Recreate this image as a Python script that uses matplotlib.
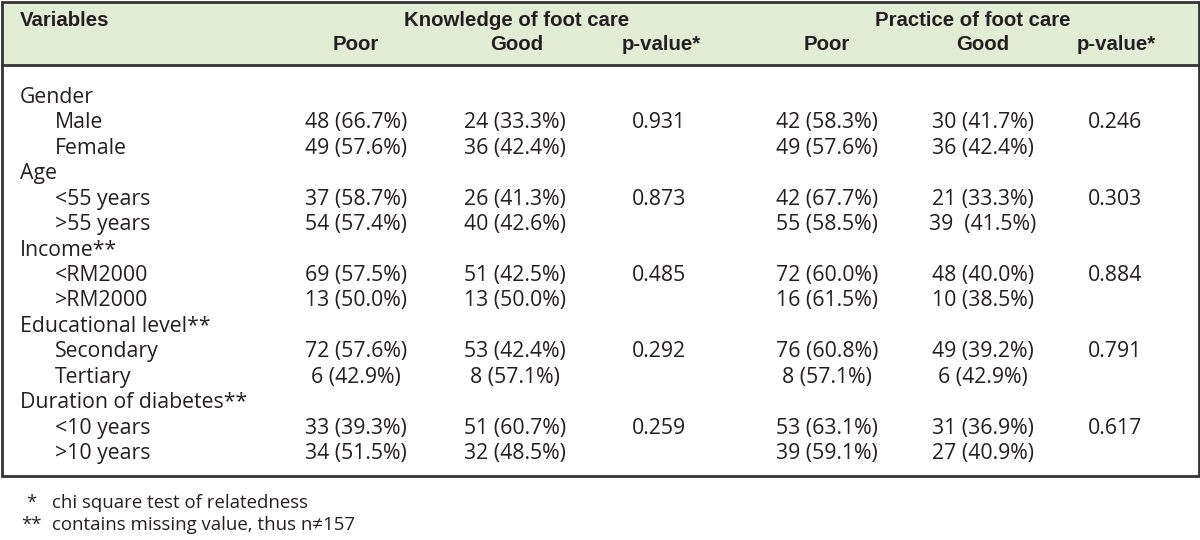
import matplotlib
matplotlib.use("Agg")
import matplotlib.pyplot as plt
from matplotlib.patches import Rectangle

# ---- data ----
groups = ["Gender", "Age", "Income**", "Educational level**", "Duration of diabetes**"]
levels = [["Male", "Female"], ["<55 years", ">55 years"], ["<RM2000", ">RM2000"],
          ["Secondary", "Tertiary"], ["<10 years", ">10 years"]]
know_poor_n = [48, 49, 37, 54, 69, 13, 72, 6, 33, 34]
know_poor_pct = [66.7, 57.6, 58.7, 57.4, 57.5, 50.0, 57.6, 42.9, 39.3, 51.5]
know_good_n = [24, 36, 26, 40, 51, 13, 53, 8, 51, 32]
know_good_pct = [33.3, 42.4, 41.3, 42.6, 42.5, 50.0, 42.4, 57.1, 60.7, 48.5]
know_p = ["0.931", "0.873", "0.485", "0.292", "0.259"]
prac_poor_n = [42, 49, 42, 55, 72, 16, 76, 8, 53, 39]
prac_poor_pct = [58.3, 57.6, 67.7, 58.5, 60.0, 61.5, 60.8, 57.1, 63.1, 59.1]
prac_good_n = [30, 36, 21, 39, 48, 10, 49, 6, 31, 27]
prac_good_pct = [41.7, 42.4, 33.3, 41.5, 40.0, 38.5, 39.2, 42.9, 36.9, 40.9]
prac_p = ["0.246", "0.303", "0.884", "0.791", "0.617"]
sub_headers = ["Poor", "Good", "p-value*", "Poor", "Good", "p-value*"]
footnotes = [("*", "chi square test of relatedness"),
             ("**", "contains missing value, thus n\u2260157")]

# ---- layout ----
W, H = 1200, 540
fig = plt.figure(figsize=(12, 5.4), dpi=100)
ax = fig.add_axes([0, 0, 1, 1])
ax.set_xlim(0, W)
ax.set_ylim(H, 0)
ax.axis("off")

txt = "#231f20"
edge = "#333333"
hdr_font = "Liberation Sans"
body_font = "Open Sans"
hsize = 14.7
bsize = 15.3
fsize = 13.4

top, hdr_bot, bot = 1.5, 65, 476
ax.add_patch(Rectangle((1.5, top), W - 3, hdr_bot - top, facecolor="#e3ecd4",
                       edgecolor="none", zorder=0))
ax.add_patch(Rectangle((1.5, top), W - 3, bot - top, facecolor="none",
                       edgecolor=edge, lw=2.0, zorder=3))
ax.plot([1.5, W - 1.5], [hdr_bot, hdr_bot], color=edge, lw=2.0, zorder=3)

# header
ax.text(20, 18, "Variables", fontfamily=hdr_font, fontweight="bold", fontsize=hsize,
        color=txt, ha="left", va="center_baseline")
ax.text(517, 18, "Knowledge of foot care", fontfamily=hdr_font, fontweight="bold",
        fontsize=hsize, color=txt, ha="center", va="center_baseline")
ax.text(973, 18, "Practice of foot care", fontfamily=hdr_font, fontweight="bold",
        fontsize=hsize, color=txt, ha="center", va="center_baseline")
hdr_x = [356, 517, 661, 827, 983, 1116]
for x, s in zip(hdr_x, sub_headers):
    ax.text(x, 43, s, fontfamily=hdr_font, fontweight="bold", fontsize=hsize,
            color=txt, ha="center", va="center_baseline")

# body
col_x = [356, 515, 659, 827, 983, 1115]
y0, step = 95, 25.43
row = 0
k = 0
for g, (grp, levs) in enumerate(zip(groups, levels)):
    y = y0 + row * step
    ax.text(20, y, grp, fontfamily=body_font, fontsize=bsize, color=txt,
            ha="left", va="center_baseline")
    row += 1
    for j, lev in enumerate(levs):
        y = y0 + row * step
        ax.text(55, y, lev, fontfamily=body_font, fontsize=bsize, color=txt,
                ha="left", va="center_baseline")
        gsep = "  " if (prac_good_n[k], prac_good_pct[k]) == (39, 41.5) else " "
        cells = [f"{know_poor_n[k]} ({know_poor_pct[k]:.1f}%)",
                 f"{know_good_n[k]} ({know_good_pct[k]:.1f}%)",
                 know_p[g] if j == 0 else "",
                 f"{prac_poor_n[k]} ({prac_poor_pct[k]:.1f}%)",
                 f"{prac_good_n[k]}{gsep}({prac_good_pct[k]:.1f}%)",
                 prac_p[g] if j == 0 else ""]
        for x, s in zip(col_x, cells):
            if s:
                ax.text(x, y, s, fontfamily=body_font, fontsize=bsize, color=txt,
                        ha="center", va="center_baseline")
        row += 1
        k += 1

# footnotes
for (mark, note), y in zip(footnotes, [501, 523]):
    ax.text(31, y, mark, fontfamily=body_font, fontsize=fsize, color=txt,
            ha="center", va="center_baseline")
    ax.text(52, y, note, fontfamily=body_font, fontsize=fsize, color=txt,
            ha="left", va="center_baseline")

fig.savefig("out.png", dpi=100, facecolor="white")
